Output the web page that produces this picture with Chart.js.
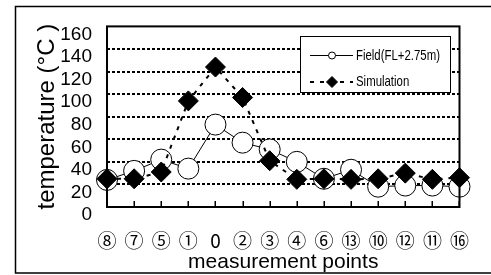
<!DOCTYPE html>
<html>
<head>
<meta charset="utf-8">
<script src="https://cdn.jsdelivr.net/npm/chart.js@4.4.1/dist/chart.umd.min.js"></script>
<style>
  html, body { margin: 0; padding: 0; background: #fff; }
  #wrap { width: 491px; height: 275px; }
</style>
</head>
<body>
<div id="wrap"><canvas id="c" width="491" height="275"></canvas></div>
<script>
const categories = ['⑧','⑦','⑤','①','0','②','③','④','⑥','⑬','⑩','⑫','⑪','⑯'];
const fieldValues = [24, 32, 42, 34, 73, 57, 51, 40, 25, 33, 18, 19, 19, 18];
const simulationValues = [25, 25, 31, 94, 124, 97, 41, 24.5, 25, 24.5, 25, 30, 24.5, 26];
const yTickValues = [0, 20, 40, 60, 80, 100, 120, 140, 160];
const seriesNames = ['Field(FL+2.75m)', 'Simulation'];
const yTitle = 'temperature (°C )';
const xTitle = 'measurement points';

const SANS = '"Liberation Sans", Arial, sans-serif';

const framePlugin = {
  id: 'frame',
  beforeDraw(chart) {
    const ctx = chart.ctx;
    ctx.save();
    ctx.fillStyle = '#fff';
    ctx.fillRect(0, 0, chart.width, chart.height);
    ctx.strokeStyle = '#000';
    ctx.lineWidth = 1.5;
    ctx.beginPath();
    ctx.moveTo(chart.width + 2, 6.5);
    ctx.lineTo(15.5, 6.5);
    ctx.lineTo(15.5, 273);
    ctx.lineTo(chart.width + 2, 273);
    ctx.stroke();
    ctx.restore();
  },
  afterDatasetsDraw(chart) {
    const ctx = chart.ctx;
    const a = chart.chartArea;
    const xs = chart.scales.x;
    ctx.save();
    ctx.strokeStyle = '#000';
    ctx.lineWidth = 1.5;
    ctx.beginPath();
    for (let i = 0; i < categories.length; i++) {
      const px = Math.round(xs.getPixelForValue(i)) + 0.25;
      ctx.moveTo(px, a.bottom);
      ctx.lineTo(px, a.bottom - 6);
    }
    ctx.stroke();
    ctx.lineWidth = 2;
    ctx.strokeRect(a.left, a.top, a.right - a.left, a.bottom - a.top);

    // legend box
    const bx = 300, by = 36.5, bw = 150, bh = 56;
    ctx.fillStyle = '#fff';
    ctx.fillRect(bx, by, bw, bh);
    ctx.lineWidth = 1;
    ctx.strokeStyle = '#000';
    ctx.strokeRect(bx + 0.5, by, bw, bh);

    const ds = chart.data.datasets;
    const rows = [55.5, 82];
    [0, 1].forEach((di, r) => {
      const d = ds[di];
      const y = rows[r];
      ctx.save();
      ctx.strokeStyle = '#000';
      ctx.lineWidth = d.borderWidth;
      ctx.setLineDash(d.borderDash || []);
      ctx.beginPath();
      ctx.moveTo(310, y);
      ctx.lineTo(353, y);
      ctx.stroke();
      ctx.restore();
      ctx.save();
      ctx.fillStyle = d.pointBackgroundColor;
      ctx.strokeStyle = d.pointBorderColor;
      ctx.lineWidth = 1;
      ctx.setLineDash([]);
      Chart.helpers.drawPoint(ctx, {
        pointStyle: d.pointStyle, radius: di === 0 ? 3.5 : 5.5, rotation: 0, borderWidth: 1
      }, 332, y);
      ctx.restore();
      ctx.save();
      ctx.fillStyle = '#000';
      ctx.font = '15px ' + SANS;
      ctx.textBaseline = 'middle';
      ctx.translate(356, y);
      ctx.scale(0.76, 1);
      ctx.fillText(seriesNames[di], 0, 0);
      ctx.restore();
    });
    ctx.restore();
  }
};

new Chart(document.getElementById('c'), {
  type: 'line',
  data: {
    labels: categories,
    datasets: [
      {
        label: seriesNames[0],
        data: fieldValues,
        borderColor: '#000',
        borderWidth: 1,
        pointStyle: 'circle',
        pointRadius: 10.5,
        pointBackgroundColor: '#fff',
        pointBorderColor: '#000',
        pointBorderWidth: 1,
        tension: 0,
        clip: false,
        order: 2
      },
      {
        label: seriesNames[1],
        data: simulationValues,
        borderColor: '#000',
        borderWidth: 2,
        borderDash: [4, 6],
        pointStyle: 'rectRot',
        pointRadius: 10,
        pointBackgroundColor: '#000',
        pointBorderColor: '#000',
        pointBorderWidth: 1,
        tension: 0,
        clip: false,
        order: 1
      }
    ]
  },
  options: {
    responsive: false,
    animation: false,
    devicePixelRatio: 1,
    layout: { padding: { left: 0, top: 24, right: 28, bottom: 0 } },
    plugins: { legend: { display: false }, tooltip: { enabled: false } },
    scales: {
      x: {
        type: 'category',
        offset: false,
        grid: { display: false, drawTicks: false },
        border: { display: false },
        ticks: {
          color: '#000',
          font: { family: '"Noto Sans CJK JP", "DejaVu Sans", sans-serif', size: 19 },
          padding: 22,
          maxRotation: 0,
          autoSkip: false
        },
        title: {
          display: true,
          text: xTitle,
          color: '#000',
          font: { family: SANS, size: 21 },
          padding: 0
        },
        afterFit(s) { s.height = 68; }
      },
      y: {
        min: 0,
        max: 160,
        afterBuildTicks(s) { s.ticks = yTickValues.map(v => ({ value: v })); },
        grid: {
          drawTicks: false,
          lineWidth: 2,
          color: (c) => (c.tick && (c.tick.value === 0 || c.tick.value === 160)) ? 'rgba(0,0,0,0)' : '#000'
        },
        border: { display: false, dash: [3, 2] },
        ticks: {
          color: '#000',
          font: { family: SANS, size: 19 },
          padding: 15,
          labelOffset: 8,
          autoSkip: false
        },
        title: {
          display: true,
          text: yTitle,
          color: '#000',
          font: { family: SANS, size: 24 },
          padding: { top: 33, bottom: 0 }
        },
        afterFit(s) { s.width = 107; }
      }
    }
  },
  plugins: [framePlugin]
});
</script>
</body>
</html>
